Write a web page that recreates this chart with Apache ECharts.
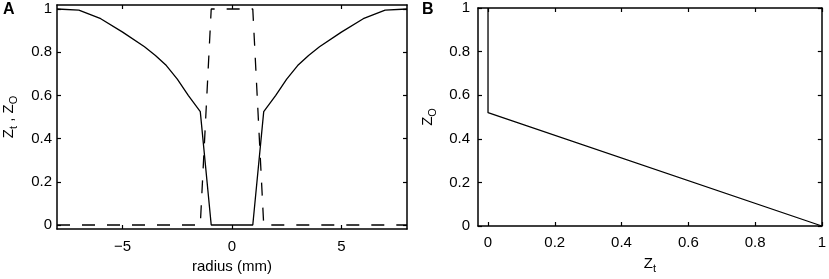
<!DOCTYPE html>
<html>
<head>
<meta charset="utf-8">
<script src="https://cdn.jsdelivr.net/npm/echarts@6/dist/echarts.min.js"></script>
<style>
html, body { margin: 0; padding: 0; background: #fff; }
#chartMain { width: 829px; height: 279px; }
</style>
</head>
<body>
<div id="chartMain"></div>
<script>
// panel A: Zt (solid) and Zo (dashed) against radius
var radiusT = [-8, -7, -6, -5, -4, -3.5, -3, -2.5, -2, -1.45, -0.95, 0.95, 1.45, 2, 2.5, 3, 3.5, 4, 5, 6, 7, 8];
var zt = [1.0, 0.995, 0.955, 0.893, 0.825, 0.785, 0.738, 0.675, 0.6, 0.525, 0, 0, 0.525, 0.6, 0.675, 0.738, 0.785, 0.825, 0.893, 0.955, 0.995, 1.0];
var radiusO = [-8, -1.45, -0.95, 0.95, 1.45, 8];
var zo = [0, 0, 1, 1, 0, 0];
// panel B: Zo against Zt
var bZt = [0, 0, 1];
var bZo = [1, 0.52, 0];
// tick labels
var ticksA_x = [-5, 0, 5];
var ticksA_y = [0, 0.2, 0.4, 0.6, 0.8, 1];
var ticksB_x = [0, 0.2, 0.4, 0.6, 0.8, 1];

var myChart = echarts.init(document.getElementById('chartMain'));
var FONT = 'Liberation Sans';

function pairs(xs, ys) {
	var out = [];
	for (var i = 0; i < xs.length; i++) out.push([xs[i], ys[i]]);
	return out;
}
function fmt(v) {
	return String(v).replace('-', '\u2212');
}
var line = { onZero: false, lineStyle: { color: '#000', width: 1.5 } };
var tick = { inside: true, length: 4, lineStyle: { color: '#000', width: 1.2 } };

// bottom/left axis with labels
function mainAxis(grid, pos, min, max, ticks, margin, extra) {
	var ax = {
		type: 'value', gridIndex: grid, position: pos, min: min, max: max,
		splitLine: { show: false },
		axisLine: line,
		axisTick: Object.assign({ customValues: ticks }, tick),
		axisLabel: { customValues: ticks, margin: margin, color: '#000', fontFamily: FONT, fontSize: 15, formatter: fmt }
	};
	return Object.assign(ax, extra || {});
}
// top/right mirror axis, ticks only
function boxAxis(grid, pos, min, max, ticks) {
	return {
		type: 'value', gridIndex: grid, position: pos, min: min, max: max,
		splitLine: { show: false },
		axisLine: line,
		axisTick: Object.assign({ customValues: ticks }, tick),
		axisLabel: { show: false }
	};
}

var nameStyle = { color: '#000', fontFamily: FONT, fontSize: 15 };
var rich = {
	z: { fontFamily: FONT, fontSize: 15, color: '#000' },
	s: { fontFamily: FONT, fontSize: 11, color: '#000', padding: [9, 0, 0, 0] }
};

option = {
	animation: false,
	backgroundColor: '#fff',
	grid: [
		{ left: 57, right: 422, top: 5, bottom: 50 },
		{ left: 478, right: 6, top: 8, bottom: 48 }
	],
	xAxis: [
		mainAxis(0, 'bottom', -8, 8, ticksA_x, 10, {
			name: 'radius (mm)', nameLocation: 'middle', nameGap: 30, nameTextStyle: nameStyle
		}),
		boxAxis(0, 'top', -8, 8, ticksA_x),
		mainAxis(1, 'bottom', -0.03, 1, ticksB_x, 9, {
			name: '{z|Z}{s|t}', nameLocation: 'middle', nameGap: 28,
			nameTextStyle: { rich: rich }
		}),
		boxAxis(1, 'top', -0.03, 1, ticksB_x)
	],
	yAxis: [
		mainAxis(0, 'left', -0.0185, 1.0185, ticksA_y, 5, {
			name: '{z|Z}{s|t}{z| , Z}{s|O}', nameLocation: 'middle', nameRotate: 90, nameGap: 38,
			nameTextStyle: { rich: rich }
		}),
		boxAxis(0, 'right', -0.0185, 1.0185, ticksA_y),
		mainAxis(1, 'left', 0, 1, ticksA_y, 8, {
			name: '{z|Z}{s|O}', nameLocation: 'middle', nameRotate: 90, nameGap: 40,
			nameTextStyle: { rich: rich }
		}),
		boxAxis(1, 'right', 0, 1, ticksA_y)
	],
	graphic: [
		{ type: 'text', left: 3, top: 2, style: { text: 'A', font: 'bold 16px "Liberation Sans"', fill: '#000' } },
		{ type: 'text', left: 422, top: 2, style: { text: 'B', font: 'bold 16px "Liberation Sans"', fill: '#000' } }
	],
	series: [
		{
			name: 'Zt', type: 'line', xAxisIndex: 0, yAxisIndex: 0, symbol: 'none',
			lineStyle: { color: '#000', width: 1.3 },
			data: pairs(radiusT, zt)
		},
		{
			name: 'Zo', type: 'line', xAxisIndex: 0, yAxisIndex: 0, symbol: 'none',
			lineStyle: { color: '#000', width: 1.3, type: [13, 12] },
			data: pairs(radiusO, zo)
		},
		{
			name: 'Zo vs Zt', type: 'line', xAxisIndex: 2, yAxisIndex: 2, symbol: 'none',
			lineStyle: { color: '#000', width: 1.3 },
			data: pairs(bZt, bZo)
		}
	]
};
myChart.setOption(option);
</script>
</body>
</html>
